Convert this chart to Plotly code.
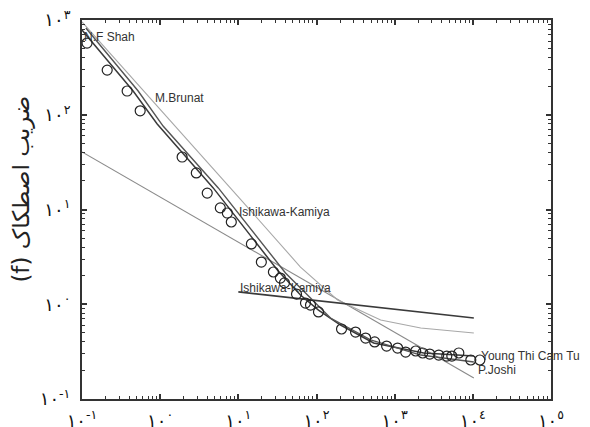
import numpy as np
import plotly.graph_objects as go

# ---- data ----
re_exp = [0.116, 0.21, 0.378, 0.555, 1.91, 2.90, 4.0, 5.88, 7.23, 8.13, 14.7, 19.7, 28.1, 34.5,
          38.9, 55.5, 72.3, 83.8, 106, 209, 316, 425, 555, 789, 1091, 1383, 1858, 2286, 2812,
          3664, 4645, 5383, 6620, 9420, 12300]
f_exp = [571, 296, 178, 110, 35.8, 24.3, 14.9, 10.4, 9.18, 7.38, 4.33, 2.79, 2.19, 1.89,
         1.68, 1.28, 1.03, 0.98, 0.83, 0.548, 0.509, 0.44, 0.40, 0.362, 0.345, 0.313, 0.321,
         0.306, 0.298, 0.291, 0.284, 0.284, 0.306, 0.258, 0.258]

shah_re = [0.1, 0.451, 0.916, 4.77, 31.6, 62.4, 106, 203, 538, 2355, 10300]
shah_f = [783, 178, 79.8, 16.9, 2.30, 1.25, 0.869, 0.604, 0.390, 0.306, 0.284]

young_re = [0.112, 0.523, 1.09, 5.54, 40.1, 72.3, 151, 492, 2153, 10300]
young_f = [824, 178, 76, 16.9, 2.14, 1.32, 0.716, 0.42, 0.291, 0.246]

brunat_re = [0.1, 1.65, 10.6, 62.4, 186, 662, 2153, 10300]
brunat_f = [953, 72.4, 12.9, 2.47, 1.11, 0.683, 0.561, 0.497]

joshi_re = [0.1, 3.26, 10300]
joshi_f = [40.5, 7.74, 0.167]

ik_re = [10, 10300]
ik_f = [1.35, 0.716]

x_tickvals = [0.1, 1, 10, 100, 1000, 10000, 100000]
x_ticktext = ["۱۰<sup>-۱</sup>", "۱۰<sup>۰</sup>", "۱۰<sup>۱</sup>", "۱۰<sup>۲</sup>",
              "۱۰<sup>۳</sup>", "۱۰<sup>٤</sup>", "۱۰<sup>٥</sup>"]
y_tickvals = [0.1, 1, 10, 100, 1000]
y_ticktext = ["۱۰<sup>-۱</sup>", "۱۰<sup>۰</sup>", "۱۰<sup>۱</sup>", "۱۰<sup>۲</sup>", "۱۰<sup>۳</sup>"]

labels = ["N.F Shah", "M.Brunat", "Ishikawa-Kamiya", "Ishikawa-Kamiya", "Young Thi Cam Tu", "P.Joshi"]
label_re = [0.1, 0.813, 9.7, 10.0, 11900, 10900]
label_f = [661, 150, 9.42, 1.48, 0.284, 0.202]

y_title = "\u202bضریب اصطکاک (f)\u202c"

DARK = "#3a3a3a"
GRAY = "#8a8a8a"
LIGHT = "#a8a8a8"

fig = go.Figure()
fig.add_trace(go.Scatter(x=joshi_re, y=joshi_f, mode="lines", line=dict(color=GRAY, width=1.1)))
fig.add_trace(go.Scatter(x=brunat_re, y=brunat_f, mode="lines", line=dict(color=LIGHT, width=1.1)))
fig.add_trace(go.Scatter(x=ik_re, y=ik_f, mode="lines", line=dict(color=DARK, width=1.6)))
fig.add_trace(go.Scatter(x=shah_re, y=shah_f, mode="lines", line=dict(color=DARK, width=1.5)))
fig.add_trace(go.Scatter(x=young_re, y=young_f, mode="lines", line=dict(color="#555555", width=1.4)))
fig.add_trace(go.Scatter(x=re_exp, y=f_exp, mode="markers",
                         marker=dict(symbol="circle-open", size=10, color="#222222",
                                     line=dict(width=1.2, color="#222222"))))

for t, xv, yv in zip(labels, label_re, label_f):
    fig.add_annotation(x=np.log10(xv), y=np.log10(yv), text=t, showarrow=False,
                       xanchor="left", yanchor="middle",
                       font=dict(family="Liberation Sans, Arial, sans-serif", size=12, color="#333333"))

fig.add_annotation(xref="paper", yref="paper", x=-0.128, y=0.555, text=y_title, textangle=-90,
                   showarrow=False, xanchor="center", yanchor="middle",
                   font=dict(family="DejaVu Sans", size=23, color="#222222"))

axis_common = dict(type="log", showgrid=False, zeroline=False, showline=True, linecolor="#333333",
                   linewidth=2, mirror="allticks", ticks="inside", ticklen=5, tickwidth=1.5,
                   tickcolor="#333333", automargin=False, ticklabeloverflow="allow",
                   minor=dict(dtick="D1", ticks="inside", ticklen=3, tickwidth=1, tickcolor="#333333",
                              showgrid=False),
                   tickfont=dict(family="DejaVu Sans", size=18, color="#111111"))

fig.update_xaxes(range=[-1, 5], tickmode="array", tickvals=x_tickvals, ticktext=x_ticktext,
                 ticklabelstandoff=4, **axis_common)
fig.update_yaxes(range=[-1, 3], tickmode="array", tickvals=y_tickvals, ticktext=y_ticktext,
                 ticklabelstandoff=6, **axis_common)

# the page adds an 8px body margin, so the figure is sized/offset to compensate
fig.update_layout(width=582, height=419, margin=dict(l=74, r=39, t=12, b=28, autoexpand=False),
                  paper_bgcolor="white", plot_bgcolor="white", showlegend=False)

fig.write_html("out.html")
